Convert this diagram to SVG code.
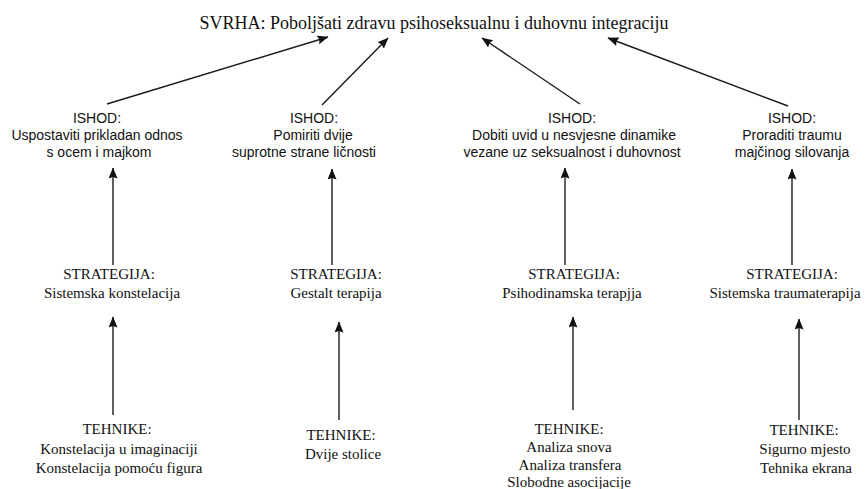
<svg xmlns="http://www.w3.org/2000/svg" width="868" height="489" viewBox="0 0 868 489">
<style>
.title{font-family:"Liberation Serif","Times New Roman",serif;font-size:18px;fill:#111;text-anchor:middle}
.sans{font-family:"Liberation Sans",Arial,sans-serif;font-size:14px;fill:#111;text-anchor:middle}
.serif{font-family:"Liberation Serif","Times New Roman",serif;font-size:15px;fill:#111;text-anchor:middle}
.conn line{stroke:#1a1a1a;stroke-width:1.4;fill:none;marker-end:url(#ah)}
</style>
<defs>
<marker id="ah" markerUnits="userSpaceOnUse" markerWidth="12" markerHeight="10" refX="10.5" refY="4.5" orient="auto">
<path d="M0,0 L11,4.5 L0,9 L1.5,4.5 z" fill="#111"/>
</marker>
</defs>
<rect width="868" height="489" fill="#fff"/>
<g id="connectors" class="conn">
<line x1="107" y1="104" x2="328" y2="37"/>
<line x1="322" y1="105" x2="388" y2="38"/>
<line x1="580" y1="104" x2="482" y2="38"/>
<line x1="788" y1="106" x2="608" y2="38"/>
<line x1="113" y1="265" x2="113" y2="168"/>
<line x1="332" y1="265" x2="332" y2="169"/>
<line x1="565" y1="265" x2="565" y2="168"/>
<line x1="792" y1="265" x2="792" y2="169"/>
<line x1="113" y1="415" x2="113" y2="317"/>
<line x1="339" y1="420" x2="339" y2="322"/>
<line x1="573" y1="410" x2="573" y2="317"/>
<line x1="799" y1="420" x2="799" y2="319"/>
</g>
<g id="svrha"><text class="title" x="434" y="29">SVRHA: Poboljšati zdravu psihoseksualnu i duhovnu integraciju</text></g>
<g id="ishod1" class="sans">
<text class="sans" x="97" y="123">ISHOD:</text>
<text class="sans" x="97" y="140">Uspostaviti prikladan odnos</text>
<text class="sans" x="99" y="157">s ocem i majkom</text>
</g>
<g id="ishod2">
<text class="sans" x="314" y="123">ISHOD:</text>
<text class="sans" x="313" y="140">Pomiriti dvije</text>
<text class="sans" x="304" y="157">suprotne strane ličnosti</text>
</g>
<g id="ishod3">
<text class="sans" x="572" y="123">ISHOD:</text>
<text class="sans" x="574" y="140">Dobiti uvid u nesvjesne dinamike</text>
<text class="sans" x="572" y="157">vezane uz seksualnost i duhovnost</text>
</g>
<g id="ishod4">
<text class="sans" x="792" y="123">ISHOD:</text>
<text class="sans" x="792" y="140">Proraditi traumu</text>
<text class="sans" x="792" y="157">majčinog silovanja</text>
</g>
<g id="strategija1">
<text class="serif" x="109" y="279">STRATEGIJA:</text>
<text class="serif" x="112" y="298">Sistemska konstelacija</text>
</g>
<g id="strategija2">
<text class="serif" x="336" y="279">STRATEGIJA:</text>
<text class="serif" x="336" y="298">Gestalt terapija</text>
</g>
<g id="strategija3">
<text class="serif" x="574" y="279">STRATEGIJA:</text>
<text class="serif" x="572" y="298">Psihodinamska terapjja</text>
</g>
<g id="strategija4">
<text class="serif" x="792" y="279">STRATEGIJA:</text>
<text class="serif" x="785" y="298">Sistemska traumaterapija</text>
</g>
<g id="tehnike1">
<text class="serif" x="117" y="434">TEHNIKE:</text>
<text class="serif" x="119" y="454">Konstelacija u imaginaciji</text>
<text class="serif" x="119" y="473">Konstelacija pomoću figura</text>
</g>
<g id="tehnike2">
<text class="serif" x="341" y="440">TEHNIKE:</text>
<text class="serif" x="343" y="459">Dvije stolice</text>
</g>
<g id="tehnike3">
<text class="serif" x="569" y="434">TEHNIKE:</text>
<text class="serif" x="569" y="452">Analiza snova</text>
<text class="serif" x="570" y="470">Analiza transfera</text>
<text class="serif" x="569" y="487">Slobodne asocijacije</text>
</g>
<g id="tehnike4">
<text class="serif" x="804" y="435">TEHNIKE:</text>
<text class="serif" x="805" y="454">Sigurno mjesto</text>
<text class="serif" x="806" y="473">Tehnika ekrana</text>
</g>
</svg>
